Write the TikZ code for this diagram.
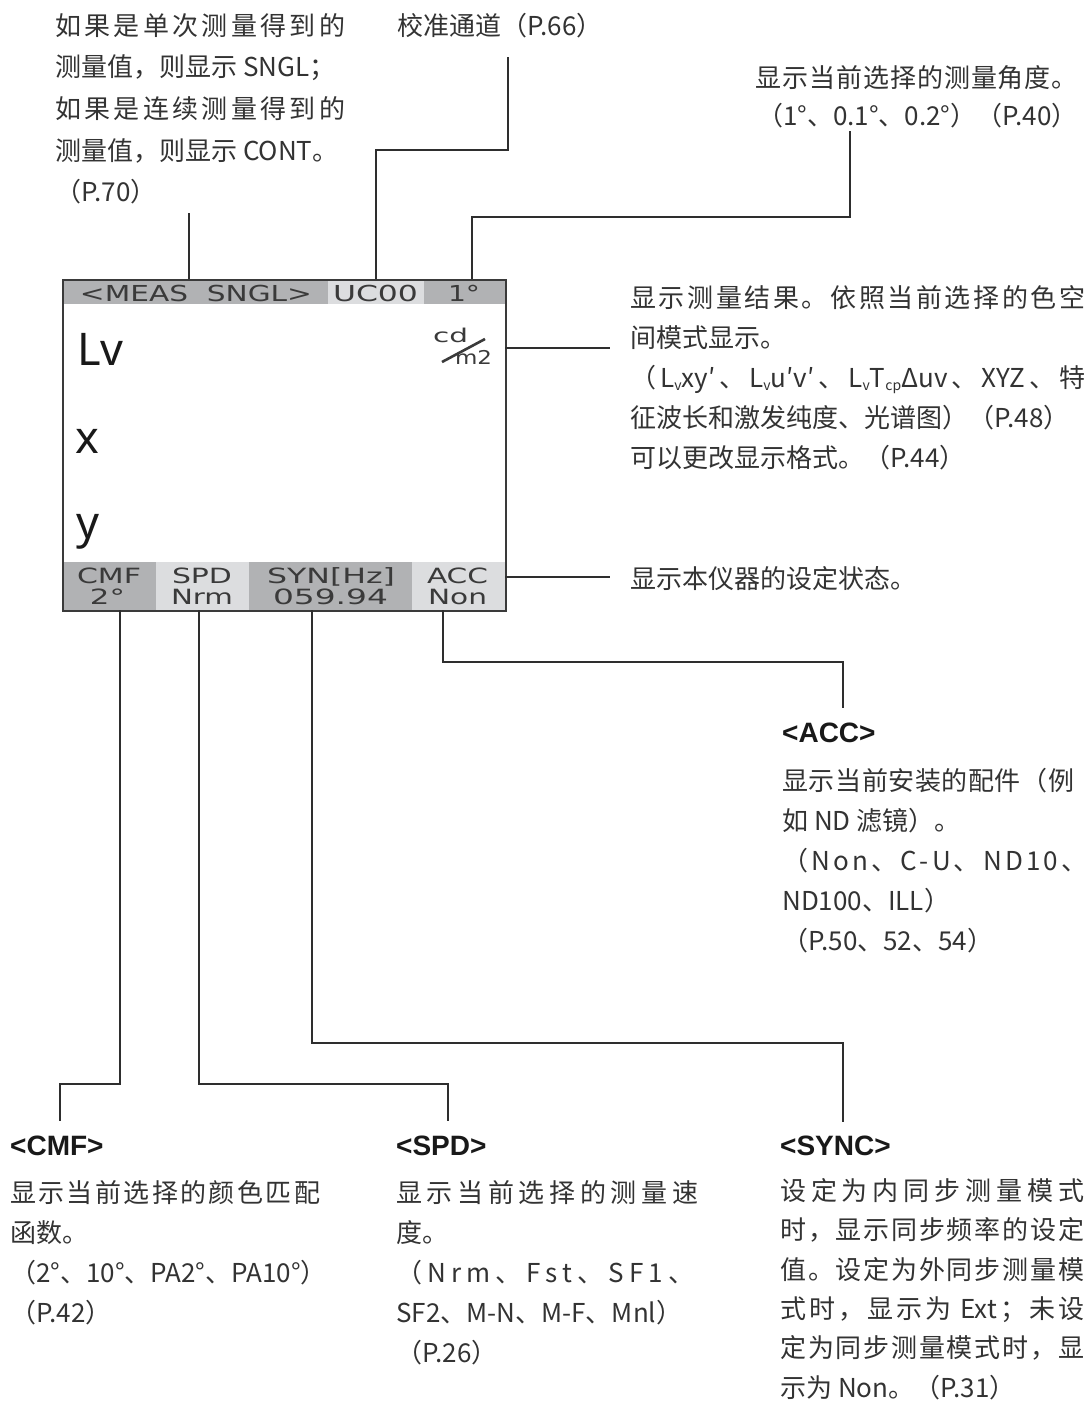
\documentclass[tikz,border=0pt]{standalone}
\usepackage{fontspec}
\usepackage{graphicx}
\setmainfont{Noto Sans}
\newfontfamily\cjkf{Noto Sans CJK SC}
\newfontfamily\lcdf{DejaVu Sans}
\newfontfamily\hdf{Noto Sans}
\newfontfamily\hbf{Liberation Sans}
\definecolor{txtc}{HTML}{333333}
\definecolor{lnc}{HTML}{2E2E2E}
\definecolor{bardk}{HTML}{B1B2B4}
\definecolor{barlt}{HTML}{DCDDDF}
\definecolor{lcdtx}{HTML}{3A3A3A}
\newcommand\dfont[1]{\cjkf\fontsize{26}{#1}\selectfont}
\newcommand\lsub[1]{\raisebox{-3pt}{\fontsize{14}{14}\selectfont #1}}
\newcommand\lcdw[2]{\resizebox{#1}{\height}{#2}}
\ExplSyntaxOn
\cs_new_protected:Npn \dvp_spread:n #1
  {
    \bool_set_true:N \l_tmpa_bool
    \tl_map_inline:nn {#1}
      {
        \bool_if:NTF \l_tmpa_bool
          { \bool_set_false:N \l_tmpa_bool }
          { \hfil }
        ##1
      }
  }
\NewDocumentCommand \sprd { m m } { \makebox[#1][s]{ \dvp_spread:n {#2} } }
\ExplSyntaxOff
\tikzset{
  desc/.style={anchor=north west, inner sep=0pt, align=left, text=txtc},
  conn/.style={draw=lnc, line width=1.8pt},
  lcdtop/.style={anchor=base, inner sep=0pt, text=lcdtx, font=\lcdf\fontsize{22}{24}\selectfont},
  lcdbot/.style={anchor=base, inner sep=0pt, text=lcdtx, font=\lcdf\fontsize{21}{23}\selectfont},
  lcdunit/.style={anchor=base, inner sep=0pt, text=lcdtx, font=\lcdf\fontsize{19}{21}\selectfont},
  bigtxt/.style={anchor=base west, inner sep=0pt, text=black!90, font=\hdf\fontsize{45}{48}\selectfont},
  head/.style={anchor=base west, inner sep=0pt, text=black!90, font=\hbf\bfseries\fontsize{28}{30}\selectfont},
}
\begin{document}
\begin{tikzpicture}[x=1pt,y=-1pt]
\useasboundingbox (0,0) rectangle (1085,1403);
\fill[white] (0,0) rectangle (1085,1403);

% ---- display bars
\fill[bardk] (62,279) rectangle (328,304);
\fill[barlt] (328,279) rectangle (424,304);
\fill[bardk] (424,279) rectangle (505,304);
\fill[bardk] (62,562) rectangle (156,610);
\fill[barlt] (156,562) rectangle (249,610);
\fill[bardk] (249,562) rectangle (412,610);
\fill[barlt] (412,562) rectangle (505,610);

% ---- display frame
\node[draw=lcdtx, line width=2.2pt, rectangle, minimum width=443pt, minimum height=331pt,
      inner sep=0pt, anchor=north west] (disp) at (62,279) {};

% ---- display texts
\node[lcdtop] (tmeas) at (196,301) {\lcdw{232pt}{<MEAS\ \ SNGL>}};
\node[lcdtop] (tuc) at (375.5,301) {\lcdw{85pt}{UC00}};
\node[lcdtop] (tang) at (464,301) {\lcdw{32pt}{1°}};

\node[lcdbot] (bcmf) at (109,583) {\lcdw{64pt}{CMF}};
\node[lcdbot] (bcmfv) at (107.5,604) {\lcdw{35pt}{2°}};
\node[lcdbot] (bspd) at (202,583) {\lcdw{60pt}{SPD}};
\node[lcdbot] (bspdv) at (202,604) {\lcdw{62pt}{Nrm}};
\node[lcdbot] (bsyn) at (331,583) {\lcdw{128pt}{SYN[Hz]}};
\node[lcdbot] (bsynv) at (330.5,604) {\lcdw{115pt}{059.94}};
\node[lcdbot] (bacc) at (457.5,583) {\lcdw{61pt}{ACC}};
\node[lcdbot] (baccv) at (457.5,604) {\lcdw{59pt}{Non}};

\node[bigtxt] (lv) at (77,365) {Lv};
\node[bigtxt] (lx) at (75,453) {x};
\node[bigtxt] (ly) at (76,538) {y};

\node[lcdunit] (ucd) at (450.5,342) {\lcdw{35pt}{cd}};
\node[lcdunit] (um2) at (473.5,364) {\lcdw{37pt}{m2}};
\coordinate (sl1) at (442,362);
\coordinate (sl2) at (485,339);
\draw[lcdtx, line width=2.6pt] (sl1) -- (sl2);

% ---- description texts
\node[desc, font={\dfont{41.7}}] (tl) at (55,13)
  {\sprd{290pt}{如果是单次测量得到的}\\测量值，则显示 SNGL；\\\sprd{290pt}{如果是连续测量得到的}\\测量值，则显示 CONT。\\（P.70）};
\node[desc, font={\dfont{40}}] (cal) at (397,13) {校准通道（P.66）};
\node[desc, anchor=north east, align=right, font={\dfont{38}}] (angd) at (1078,65)
  {\sprd{322pt}{显示当前选择的测量角度。}\\（1°、0.1°、0.2°）（P.40）};
\node[desc, font={\dfont{40}}] (meas) at (630,285)
  {\sprd{455pt}{显示测量结果。依照当前选择的色空}\\间模式显示。\\\sprd{455pt}{（{L\lsub{v}xy′}、{L\lsub{v}u′v′}、{L\lsub{v}T\lsub{cp}Δuv}、{XYZ}、特}\\征波长和激发纯度、光谱图）（P.48）\\可以更改显示格式。（P.44）};
\node[desc, font={\dfont{40}}] (stat) at (630,566) {显示本仪器的设定状态。};

\node[head] (hacc) at (782,742) {<ACC>};
\node[desc, font={\dfont{40}}] (dacc) at (782,768)
  {\sprd{292pt}{显示当前安装的配件（例}\\如 ND 滤镜）。\\\sprd{305pt}{（Non、C-U、ND10、}\\ND100、ILL）\\（P.50、52、54）};

\node[head] (hcmf) at (10,1155) {<CMF>};
\node[desc, font={\dfont{40}}] (dcmf) at (10,1180)
  {\sprd{310pt}{显示当前选择的颜色匹配}\\函数。\\（2°、10°、PA2°、PA10°）\\（P.42）};

\node[head] (hspd) at (396,1155) {<SPD>};
\node[desc, font={\dfont{40}}] (dspd) at (396,1180)
  {\sprd{302pt}{显示当前选择的测量速}\\度。\\\sprd{298pt}{（Nrm、Fst、SF1、}\\SF2、M-N、M-F、Mnl）\\（P.26）};

\node[head] (hsync) at (780,1155) {<SYNC>};
\node[desc, font={\dfont{39.4}}] (dsync) at (780,1178)
  {\sprd{304pt}{设定为内同步测量模式}\\\sprd{304pt}{时，显示同步频率的设定}\\\sprd{304pt}{值。设定为外同步测量模}\\\sprd{304pt}{式时，显示为{ Ext}；未设}\\\sprd{304pt}{定为同步测量模式时，显}\\示为 Non。（P.31）};

% ---- connectors
\coordinate (pS0) at (189,279);  \coordinate (pS1) at (189,213);
\draw[conn] (pS0) -- (pS1);

\coordinate (pU0) at (376,279);  \coordinate (pU1) at (376,150);
\coordinate (pU2) at (508,150);  \coordinate (pU3) at (508,57);
\draw[conn] (pU0) -- (pU1) -- (pU2) -- (pU3);

\coordinate (pA0) at (472,279);  \coordinate (pA1) at (472,217);
\coordinate (pA2) at (850,217);  \coordinate (pA3) at (850,131);
\draw[conn] (pA0) -- (pA1) -- (pA2) -- (pA3);

\coordinate (pM0) at (505,348);  \coordinate (pM1) at (610,348);
\draw[conn] (pM0) -- (pM1);
\coordinate (pT0) at (505,577);  \coordinate (pT1) at (610,577);
\draw[conn] (pT0) -- (pT1);

\coordinate (pC0) at (120,610);  \coordinate (pC1) at (120,1084);
\coordinate (pC2) at (60,1084);  \coordinate (pC3) at (60,1121);
\draw[conn] (pC0) -- (pC1) -- (pC2) -- (pC3);

\coordinate (pP0) at (199,610);  \coordinate (pP1) at (199,1084);
\coordinate (pP2) at (448,1084); \coordinate (pP3) at (448,1121);
\draw[conn] (pP0) -- (pP1) -- (pP2) -- (pP3);

\coordinate (pY0) at (312,610);  \coordinate (pY1) at (312,1043);
\coordinate (pY2) at (843,1043); \coordinate (pY3) at (843,1122);
\draw[conn] (pY0) -- (pY1) -- (pY2) -- (pY3);

\coordinate (pX0) at (443,610);  \coordinate (pX1) at (443,662);
\coordinate (pX2) at (843,662);  \coordinate (pX3) at (843,708);
\draw[conn] (pX0) -- (pX1) -- (pX2) -- (pX3);
\end{tikzpicture}
\end{document}
